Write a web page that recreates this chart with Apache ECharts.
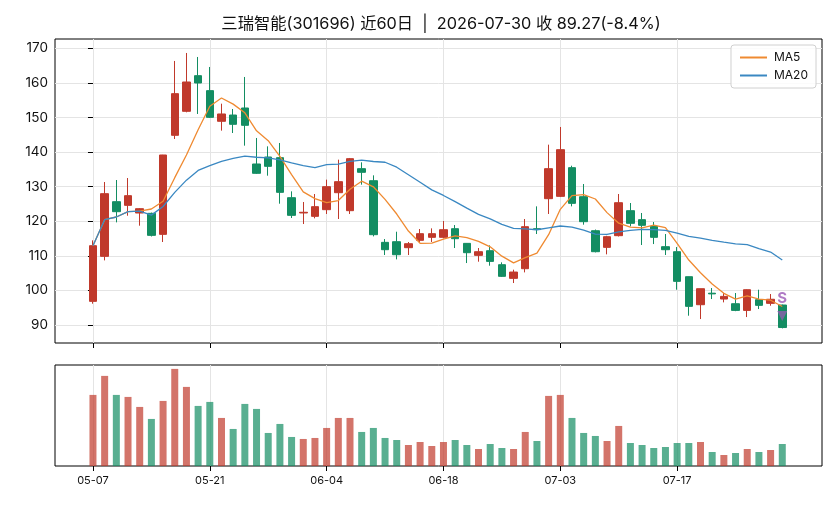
<!DOCTYPE html>
<html>
<head>
<meta charset="utf-8">
<script src="https://cdn.jsdelivr.net/npm/echarts@6/dist/echarts.min.js"></script>
<style>
  html, body { margin: 0; padding: 0; background: #fff; }
  #chart { width: 836px; height: 506px; }
</style>
</head>
<body>
<div id="chart"></div>
<script>
// trading days, 60 of them; only every 10th is labelled
const dates = [
	'05-07', '05-08', '05-11', '05-12', '05-13', '05-14', '05-15', '05-18', '05-19', '05-20',
	'05-21', '05-22', '05-25', '05-26', '05-27', '05-28', '05-29', '06-01', '06-02', '06-03',
	'06-04', '06-05', '06-08', '06-09', '06-10', '06-11', '06-12', '06-15', '06-16', '06-17',
	'06-18', '06-22', '06-23', '06-24', '06-25', '06-26', '06-29', '06-30', '07-01', '07-02',
	'07-03', '07-06', '07-07', '07-08', '07-09', '07-10', '07-13', '07-14', '07-15', '07-16',
	'07-17', '07-20', '07-21', '07-22', '07-23', '07-24', '07-27', '07-28', '07-29', '07-30'
];

const opens = [
	96.84, 109.85, 125.66, 124.6, 122.38, 122.29, 116.21, 144.85, 151.79, 162.1,
	157.77, 148.9, 150.72, 152.75, 136.56, 138.58, 138.39, 126.82, 122.4, 121.42,
	123.35, 128.26, 123.06, 135.21, 131.73, 113.9, 114.09, 112.36, 114.48, 115.35,
	115.35, 117.85, 113.61, 110.14, 111.49, 107.44, 103.49, 106.28, 117.85, 126.53,
	127.2, 135.5, 127.11, 117.27, 112.45, 115.83, 123.06, 120.46, 118.53, 112.65,
	111.2, 103.97, 95.87, 99.2, 97.51, 96.16, 94.23, 97.32, 96.26, 95.78
];
const closes = [
	112.94, 127.98, 122.77, 127.4, 123.64, 115.92, 139.16, 156.9, 160.27, 159.98,
	150.05, 151.02, 148.03, 147.74, 133.86, 135.88, 128.36, 121.71, 122.6, 124.22,
	130.0, 131.45, 138.1, 134.15, 116.12, 111.78, 110.33, 113.51, 116.41, 116.41,
	117.56, 114.96, 110.91, 111.2, 108.4, 104.07, 105.32, 118.43, 117.6, 135.21,
	140.7, 125.18, 119.88, 111.2, 115.54, 125.37, 119.4, 118.82, 115.35, 111.78,
	102.62, 95.39, 100.5, 99.0, 98.28, 94.23, 100.21, 95.68, 97.45, 89.27
];
const lows = [
	96.16, 108.69, 119.68, 121.6, 118.72, 115.6, 114.0, 143.79, 151.5, 151.02,
	149.85, 146.2, 145.52, 141.86, 133.7, 133.18, 125.08, 120.94, 119.2, 120.84,
	122.1, 120.65, 122.1, 130.58, 115.63, 110.24, 108.98, 110.24, 113.71, 114.01,
	115.06, 112.26, 107.92, 108.31, 107.15, 103.9, 102.14, 105.22, 116.31, 122.1,
	127.0, 124.31, 119.01, 111.0, 110.43, 115.6, 118.53, 113.13, 113.41, 110.24,
	100.21, 92.69, 91.73, 97.51, 96.55, 94.0, 92.3, 94.62, 95.58, 89.03
];
const highs = [
	114.48, 131.35, 131.93, 132.5, 123.8, 122.5, 139.2, 166.35, 168.66, 167.5,
	164.61, 154.0, 152.46, 161.72, 144.08, 141.66, 142.63, 128.65, 125.57, 127.88,
	132.03, 137.81, 138.3, 137.04, 133.28, 114.86, 116.98, 114.0, 117.76, 117.95,
	120.07, 118.91, 113.7, 112.26, 113.03, 108.12, 106.0, 120.65, 124.31, 142.15,
	147.26, 136.06, 130.77, 117.6, 115.8, 127.88, 125.28, 122.39, 119.78, 116.31,
	112.55, 104.0, 100.5, 100.69, 99.25, 99.25, 100.3, 100.21, 98.96, 95.9
];
// volume in lots (hundreds)
const volumes = [
	21300, 27000, 21300, 20700, 17700, 14100, 19500, 29100, 23700, 18000,
	19200, 14400, 11100, 18600, 17100, 9900, 12600, 8700, 8100, 8400,
	11400, 14400, 14400, 10200, 11400, 8400, 7800, 6300, 7200, 6000,
	7200, 7800, 6300, 5100, 6600, 5400, 5100, 10200, 7500, 21000,
	21300, 14400, 9900, 9000, 7500, 12000, 6900, 6300, 5400, 5700,
	6900, 6900, 7200, 4200, 3300, 3900, 5100, 4200, 4800, 6600
];

const tickIdx = [0, 10, 20, 30, 40, 50];
const priceTicks = [90, 100, 110, 120, 130, 140, 150, 160, 170];
const signalIdx = 59;
const signalText = 'S';

const RED = '#c0392b';
const GREEN = '#138d62';
const FONT = 'Inter, "Noto Sans CJK SC", sans-serif';

// moving average over closes, shorter window at the start (like min_periods=1)
function movingAvg(n) {
	return closes.map((c, i) => {
		const from = Math.max(0, i - n + 1);
		let s = 0;
		for (let k = from; k <= i; k++) s += closes[k];
		return [i, +(s / (i - from + 1)).toFixed(3)];
	});
}

const candleData = dates.map((d, i) => [i, opens[i], closes[i], lows[i], highs[i]]);
const volData = volumes.map((v, i) => ({
	value: [i, v],
	itemStyle: { color: closes[i] >= opens[i] ? 'rgba(192,57,43,0.7)' : 'rgba(19,141,98,0.7)' }
}));

const xMin = -3.25;
const xMax = 62.4;

function xAxisFor(gridIndex, showLabels) {
	return {
		type: 'value',
		gridIndex: gridIndex,
		min: xMin,
		max: xMax,
		axisLine: { show: false },
		axisTick: {
			show: true, inside: false, length: 5,
			customValues: tickIdx,
			lineStyle: { color: '#000', width: 1 }
		},
		axisLabel: {
			show: showLabels,
			customValues: tickIdx,
			formatter: (v) => dates[v] || '',
			color: '#111', fontFamily: FONT, fontSize: 11, margin: 9
		},
		splitLine: { show: true, lineStyle: { color: '#e4e4e4', width: 1 } }
	};
}

const lastChg = (closes[59] / closes[58] - 1) * 100;
const titleText = '三瑞智能(301696) 近60日  |  2026-07-30 收 ' + closes[59].toFixed(2) + '(' + lastChg.toFixed(1) + '%)';

const myChart = echarts.init(document.getElementById('chart'), null, { renderer: 'canvas' });

const option = {
	animation: false,
	backgroundColor: '#fff',
	title: {
		text: titleText,
		left: 436, top: 11,
		textAlign: 'center',
		textStyle: { fontFamily: FONT, fontSize: 16.3, fontWeight: 'normal', color: '#111' }
	},
	legend: {
		orient: 'vertical',
		right: 20, top: 45,
		padding: [6, 8, 6, 9],
		itemGap: 5,
		itemWidth: 27, itemHeight: 2,
		icon: 'rect',
		borderColor: '#d0d0d0', borderWidth: 1, borderRadius: 3,
		backgroundColor: 'rgba(255,255,255,0.85)',
		textStyle: { fontFamily: FONT, fontSize: 12, color: '#111', lineHeight: 13, padding: [0, 0, 0, 2] },
		data: ['MA5', 'MA20']
	},
	grid: [
		{ left: 55, right: 14, top: 39, height: 304, show: true, borderColor: '#000', borderWidth: 1, backgroundColor: 'transparent' },
		{ left: 55, right: 14, top: 365, height: 101, show: true, borderColor: '#000', borderWidth: 1, backgroundColor: 'transparent' }
	],
	xAxis: [xAxisFor(0, false), xAxisFor(1, true)],
	yAxis: [
		{
			type: 'value',
			gridIndex: 0,
			min: 84.8, max: 172.7,
			axisLine: { show: false },
			axisTick: { show: true, length: 5, customValues: priceTicks, lineStyle: { color: '#000' } },
			axisLabel: { customValues: priceTicks, color: '#111', fontFamily: FONT, fontSize: 13.5, margin: 7 },
			splitLine: { show: true, lineStyle: { color: '#e4e4e4', width: 1 } }
		},
		{
			type: 'value',
			gridIndex: 1,
			min: 0,
			max: Math.max(...volumes) * 1.04,
			axisLine: { show: false },
			axisTick: { show: false },
			axisLabel: { show: false },
			splitLine: { show: false }
		}
	],
	series: [
		{
			name: 'K',
			type: 'candlestick',
			xAxisIndex: 0, yAxisIndex: 0,
			barWidth: 8,
			encode: { x: 0, y: [1, 2, 3, 4] },
			itemStyle: { color: RED, color0: GREEN, borderColor: RED, borderColor0: GREEN, borderWidth: 1 },
			data: candleData,
			z: 3
		},
		{
			name: 'MA5',
			type: 'line',
			xAxisIndex: 0, yAxisIndex: 0,
			showSymbol: false,
			color: '#ef8a31',
			lineStyle: { width: 1.3, color: '#ef8a31' },
			data: movingAvg(5),
			z: 4
		},
		{
			name: 'MA20',
			type: 'line',
			xAxisIndex: 0, yAxisIndex: 0,
			showSymbol: false,
			color: '#3a88c2',
			lineStyle: { width: 1.3, color: '#3a88c2' },
			data: movingAvg(20),
			z: 4
		},
		{
			// sell signal on the last day
			name: 'signal',
			type: 'scatter',
			xAxisIndex: 0, yAxisIndex: 0,
			symbol: 'triangle',
			symbolRotate: 180,
			symbolSize: [10, 10],
			itemStyle: { color: 'rgba(155,89,182,0.9)' },
			label: {
				show: true, position: 'top', distance: 5,
				formatter: signalText,
				color: '#9b59b6', fontFamily: FONT, fontSize: 15, fontWeight: 'bold'
			},
			data: [[signalIdx, 92.6]],
			z: 5
		},
		{
			name: 'VOL',
			type: 'bar',
			xAxisIndex: 1, yAxisIndex: 1,
			barWidth: 7,
			data: volData
		}
	]
};

myChart.setOption(option);
window.onresize = () => { myChart.resize(); };
</script>
</body>
</html>
